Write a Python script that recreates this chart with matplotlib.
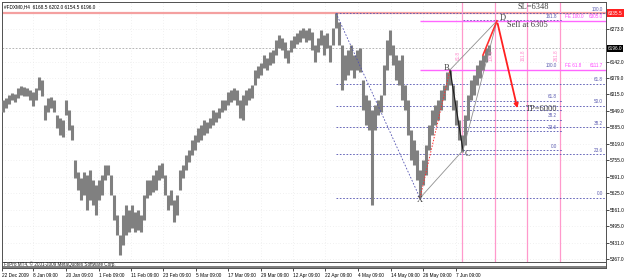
import matplotlib.pyplot as plt
from matplotlib.patches import Rectangle

# H4 bars, one (high, low) pair read every 3 bars
bar_step = 3
bar_high = [5993, 6001, 6013, 6021, 6017, 6040, 6048, 6044, 6040, 6032, 6025, 6040, 6084, 6072,
            5973, 6001, 6005, 5993, 5934, 5922, 5914, 5993, 5954, 5895, 5757, 5709, 5686, 5709,
            5698, 5717, 5678, 5658, 5678, 5698, 5737, 5737, 5698, 5619, 5540, 5461, 5540, 5579,
            5560, 5579, 5552, 5560, 5540, 5619, 5678, 5678, 5698, 5717, 5737, 5745, 5698, 5619,
            5638, 5599, 5619, 5717, 5737, 5776, 5796, 5835, 5855, 5883, 5895, 5914, 5906, 5922,
            5954, 5946, 5962, 5993, 5993, 6025, 6032, 6040, 6032, 5993, 6013, 6032, 6040, 6052,
            6111, 6127, 6139, 6170, 6158, 6182, 6190, 6229, 6249, 6237, 6222, 6190, 6229, 6245,
            6257, 6269, 6277, 6269, 6277, 6261, 6210, 6237, 6269, 6249, 6257, 6210, 6277, 6335,
            6300, 6210, 6170, 6190, 6210, 6170, 6190, 6198, 6072, 6013, 5993, 5954, 5973, 5993,
            6013, 6131, 6229, 6269, 6210, 6170, 6151, 6170, 6052, 5993, 5875, 5835, 5796, 5717,
            5757, 5816, 5895, 5954, 5973, 5993, 6032, 6052, 6103, 6111, 6052, 5993, 5914, 5855,
            5934, 6013, 6072, 6092, 6131, 6151, 6170, 6198, 6210]
bar_low = [5946, 5962, 5977, 5993, 5985, 6001, 6013, 6009, 6009, 5993, 5969, 5993, 6032, 6009,
           5914, 5946, 5962, 5946, 5883, 5855, 5847, 5934, 5875, 5835, 5686, 5638, 5599, 5619,
           5560, 5599, 5579, 5540, 5599, 5619, 5678, 5698, 5619, 5520, 5461, 5382, 5422, 5461,
           5473, 5489, 5473, 5481, 5473, 5520, 5607, 5619, 5631, 5638, 5678, 5686, 5619, 5560,
           5579, 5512, 5540, 5638, 5686, 5717, 5749, 5776, 5796, 5828, 5835, 5855, 5863, 5883,
           5895, 5906, 5922, 5946, 5954, 5973, 5985, 5993, 5973, 5922, 5914, 5973, 5993, 6001,
           6052, 6080, 6092, 6119, 6111, 6131, 6139, 6170, 6198, 6190, 6158, 6139, 6182, 6198,
           6214, 6222, 6237, 6222, 6229, 6190, 6143, 6182, 6210, 6170, 6198, 6143, 6210, 6277,
           6210, 6032, 6072, 6092, 6111, 6080, 6111, 6103, 5954, 5895, 5875, 5579, 5875, 5934,
           5946, 6013, 6111, 6170, 6131, 6072, 6052, 5993, 5954, 5855, 5757, 5737, 5678, 5611,
           5658, 5698, 5796, 5855, 5895, 5914, 5954, 5993, 6032, 6052, 5954, 5895, 5835, 5788,
           5816, 5914, 5993, 6013, 6052, 6080, 6111, 6143, 6170]

date_labels = ['22 Dec 2009', '8 Jan 09:00', '20 Jan 09:00', '1 Feb 09:00', '11 Feb 09:00',
               '23 Feb 09:00', '5 Mar 09:00', '17 Mar 09:00', '29 Mar 09:00', '12 Apr 09:00',
               '22 Apr 09:00', '4 May 09:00', '14 May 09:00', '26 May 09:00', '7 Jun 09:00']
date_bars = [2, 33, 66, 99, 131, 163, 196, 228, 261, 293, 325, 358, 391, 423, 456]

price_ticks = [6273.0, 6142.0, 6079.0, 6015.0, 5949.0, 5885.0, 5819.0,
               5755.0, 5691.0, 5625.0, 5561.0, 5495.0, 5431.0, 5367.0]

# harmonic pattern
pat_names = ['A', 'X', 'B', 'C', 'D']
pat_bars = [336, 420, 450, 463, 497]
pat_prices = [6335.5, 5607.0, 6111.7, 5795.0, 6305.0]

fib_levels = [0.0, 23.6, 38.2, 50.0, 61.8, 100.0]
fib2_levels = [0.0, 23.6, 38.2, 50.0, 61.8, 100.0, 161.8]
fe_names = ['FE 100.0', 'FE 61.8']
fe_prices = [6305.0, 6111.7]
zone_bars = [462, 495, 527, 560]
zone_labels = ['61.8', '100.0', '161.8', '261.8']

sl_price = 6335.5
bid_price = 6196.0
tp_price = 5950.0
title = '#FDXM0,H4  6168.5 6202.0 6154.5 6196.0'

W, H = 625, 278
fig = plt.figure(figsize=(W / 100, H / 100), dpi=100, facecolor='white')
ax = fig.add_axes([2 / W, (H - 262) / H, 604 / W, 260 / H])
strip = fig.add_axes([2 / W, (H - 268) / H, 604 / W, 6 / H], sharex=ax)

sans = 'Liberation Sans'
serif = 'Liberation Serif'

ax.set_xlim(2, 606)
ax.set_ylim(5355, 6379)

# price bars
xs = [bar_step * (i + 1) for i in range(len(bar_high))]
ax.vlines(xs, bar_low, bar_high, color='#808080', lw=2.2, zorder=3)

# grid, bid line, SL line
ax.set_yticks(price_ticks)
ax.set_xticks(date_bars)
ax.grid(color='#e4e4e4', ls=(0, (1, 3)), lw=0.5, zorder=0)
ax.axhline(bid_price, color='#a8a8a8', ls=(0, (2, 2)), lw=0.6, zorder=2)
ax.axhline(sl_price, color='#f4a0a0', lw=1.6, zorder=2)

# time zone verticals
for b, lab in zip(zone_bars, zone_labels):
    ax.axvline(b, color='#ff99cc', lw=0.9, zorder=2)
    ax.text(b - 4, 6170, lab, rotation=90, fontsize=3.3, color='#ff88cc',
            family=sans, ha='center', va='center')

# fib retracement A -> X
a_bar, a_p = pat_bars[0], pat_prices[0]
x_bar, x_p = pat_bars[1], pat_prices[1]
for lv in fib_levels:
    p = x_p + (a_p - x_p) * lv / 100
    ax.hlines(p, a_bar, 606, color='#5050b0', ls=(0, (2, 2)), lw=0.6, zorder=2)
    ax.text(603, p + 6, '%.1f' % lv, fontsize=3.3, color='#5a5ab0', family=sans,
            ha='right', va='bottom')

# fib retracement C -> B (50.0 label sits under the TP note)
b_bar, b_p = pat_bars[2], pat_prices[2]
c_bar, c_p = pat_bars[3], pat_prices[3]
for lv in fib2_levels:
    p = c_p + (b_p - c_p) * lv / 100
    ax.hlines(p, c_bar, 562, color='#5050b0', ls=(0, (2, 2)), lw=0.6, zorder=2)
    if lv != 50.0:
        ax.text(557, p + 6, '%.1f' % lv, fontsize=3.3, color='#5a5ab0', family=sans,
                ha='right', va='bottom')

# fib expansion lines
for name, p in zip(fe_names, fe_prices):
    ax.hlines(p, x_bar, 606, color='#ff66ff', lw=1.0, zorder=2)
    ax.text(565, p + 6, name, fontsize=3.3, color='#ff44ff', family=sans, va='bottom')
    ax.text(603, p + 6, '%.1f' % p, fontsize=3.3, color='#ff44ff', family=sans,
            ha='right', va='bottom')

# pattern lines
d_bar, d_p = pat_bars[4], pat_prices[4]
ax.plot([a_bar, x_bar], [a_p, x_p], color='#5050b0', ls=(0, (2, 2)), lw=0.6, zorder=4)
ax.plot([x_bar, b_bar], [x_p, b_p], color='#ff3030', ls=(0, (1.5, 1.5)), lw=0.7, zorder=4)
ax.plot([x_bar, c_bar], [x_p, c_p], color='#909090', lw=0.6, zorder=4)
ax.plot([b_bar, c_bar], [b_p, c_p], color='#202020', lw=0.9, zorder=4)
ax.plot([b_bar, d_bar], [b_p, d_p], color='#909090', lw=0.6, zorder=4)
ax.plot([c_bar, d_bar], [c_p, d_p], color='#909090', lw=0.6, zorder=4)
ax.plot([483, d_bar], [6170, d_p], color='#ff3030', lw=1.2, zorder=4)
ax.annotate('', xy=(518, tp_price), xytext=(d_bar, d_p),
            arrowprops=dict(arrowstyle='-|>', color='#ff2020', lw=1.3, mutation_scale=6),
            zorder=5)

for name, b, p, dx, dp, ha in zip(pat_names[1:], pat_bars[1:], pat_prices[1:],
                                  [0, -1, 2, 3], [-6, 6, -16, 12],
                                  ['center', 'right', 'left', 'left']):
    ax.text(b + dx, p + dp, name, fontsize=6, family=serif, color='#404040',
            ha=ha, va='center', zorder=6)
ax.text(507, 6289, 'Sell at 6305', fontsize=6, family=serif, color='#404040',
        va='center', zorder=6)
ax.text(518, 6360, 'SL=6348', fontsize=6, family=serif, color='#404040',
        va='center', zorder=6)
ax.text(526, 5958, 'TP=6000', fontsize=6, family=serif, color='#404040',
        va='center', zorder=6)

ax.text(0.003, 0.993, title, transform=ax.transAxes, fontsize=3.4, family=sans,
        va='top', ha='left')

# axes styling (MT4 look)
ax.yaxis.tick_right()
ax.set_yticklabels(['%.1f' % t for t in price_ticks])
ax.tick_params(axis='y', length=2, width=0.5, pad=1, labelsize=3.4, colors='black')
ax.tick_params(axis='x', length=0, labelbottom=False)
for lab in ax.get_yticklabels():
    lab.set_family(sans)
for s in ax.spines.values():
    s.set_color('#505050')
    s.set_linewidth(0.7)

for p, fc in [(sl_price, '#ff2020'), (bid_price, 'black')]:
    ax.text(1.003, p, '%.1f' % p, transform=ax.get_yaxis_transform(), fontsize=3.4,
            family=sans, color='white', va='center', ha='left', zorder=10,
            bbox=dict(boxstyle='square,pad=0.25', fc=fc, ec='none'), clip_on=False)

# bottom strip with copyright and date axis
strip.set_ylim(0, 1)
strip.add_patch(Rectangle((0, 0), 1, 0.35, transform=strip.transAxes, fc='#808080', ec='none'))
strip.text(0.003, 0.68, 'FxPro MT4, \u00a9 2001-2009 MetaQuotes Software Corp.',
           transform=strip.transAxes, fontsize=3.3, family=sans, va='center', color='#202020')
strip.set_yticks([])
strip.set_xticks(date_bars)
strip.set_xticklabels(date_labels, ha='left')
strip.tick_params(axis='x', length=2, width=0.5, pad=1.5, labelsize=3.4)
for lab in strip.get_xticklabels():
    lab.set_family(sans)
for s in strip.spines.values():
    s.set_color('#505050')
    s.set_linewidth(0.7)

fig.savefig('out.png', dpi=100, facecolor='white')
